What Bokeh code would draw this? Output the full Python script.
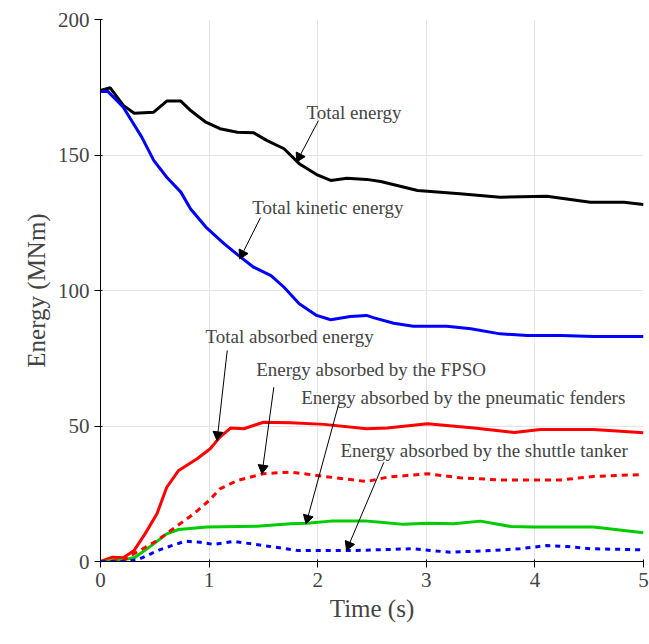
import math
from bokeh.plotting import figure
from bokeh.models import Range1d, Label, FixedTicker
from bokeh.embed import file_html
from bokeh.resources import INLINE

# ---------------- data ----------------
t_total = [0, 0.09, 0.21, 0.31, 0.49, 0.61, 0.74, 0.83, 0.97, 1.10, 1.26, 1.41, 1.53,
           1.69, 1.83, 1.99, 2.12, 2.27, 2.45, 2.58, 2.92, 3.31, 3.68, 4.11, 4.51, 4.82, 5.0]
total_energy = [173.8, 174.8, 168.3, 165.4, 165.8, 169.9, 169.9, 166.4, 162.1, 159.7, 158.4,
                158.2, 155.4, 152.3, 146.8, 142.8, 140.6, 141.4, 141.0, 140.2, 136.9, 135.7,
                134.4, 134.8, 132.6, 132.6, 131.7]

t_kin = [0, 0.07, 0.21, 0.38, 0.49, 0.61, 0.74, 0.83, 0.97, 1.14, 1.29, 1.41, 1.57, 1.69,
         1.83, 1.99, 2.12, 2.30, 2.45, 2.52, 2.70, 2.88, 3.19, 3.41, 3.68, 3.93, 4.24, 4.54, 5.0]
kinetic_energy = [173.4, 173.4, 167.6, 156.6, 148.0, 141.8, 136.3, 130.1, 123.4, 117.2, 112.3,
                  108.6, 105.5, 101.2, 95.1, 90.8, 89.2, 90.4, 90.8, 89.9, 87.9, 86.8, 86.8,
                  85.9, 84.0, 83.4, 83.4, 83.0, 83.0]

t_abs = [0, 0.11, 0.21, 0.31, 0.41, 0.52, 0.61, 0.72, 0.89, 1.01, 1.10, 1.20, 1.32, 1.50,
         1.75, 2.06, 2.45, 2.64, 3.01, 3.44, 3.81, 4.05, 4.54, 5.0]
absorbed_energy = [0, 1.6, 1.4, 4.1, 10.2, 17.6, 27.4, 33.6, 37.9, 41.6, 45.9, 49.3, 49.0,
                   51.4, 51.2, 50.6, 49.0, 49.3, 50.8, 49.3, 47.6, 48.7, 48.7, 47.5]

t_fpso = [0, 0.21, 0.31, 0.52, 0.71, 0.86, 1.00, 1.10, 1.26, 1.50, 1.75, 2.06, 2.45, 2.64,
          3.01, 3.31, 3.68, 4.24, 4.54, 5.0]
fpso_energy = [0, 0.4, 2.9, 7.7, 13.3, 17.6, 22.5, 26.8, 29.9, 32.4, 33.0, 31.4, 29.5, 31.1,
               32.4, 30.9, 30.1, 30.1, 31.4, 32.1]

t_fender = [0, 0.21, 0.32, 0.49, 0.61, 0.72, 0.98, 1.44, 1.75, 1.90, 2.12, 2.45, 2.58, 2.79,
            3.01, 3.25, 3.50, 3.78, 3.99, 4.54, 5.0]
fender_energy = [0, 0.6, 1.6, 6.5, 10.2, 11.8, 12.7, 13.0, 13.9, 14.1, 14.9, 14.9, 14.5, 13.7,
                 14.1, 13.9, 14.9, 12.9, 12.7, 12.7, 10.6]

t_shuttle = [0, 0.21, 0.34, 0.55, 0.78, 0.92, 1.04, 1.23, 1.50, 1.81, 2.36, 2.88, 3.22, 3.62,
             3.86, 4.11, 4.30, 4.51, 5.0]
shuttle_energy = [0, 0, 0.6, 4.4, 7.5, 7.1, 6.3, 7.4, 5.9, 4.1, 4.1, 4.7, 3.4, 4.1, 4.7, 5.9,
                  5.5, 4.7, 4.3]

x_ticks = [0, 1, 2, 3, 4, 5]
y_ticks = [0, 50, 100, 150, 200]

annot_texts = ["Total energy", "Total kinetic energy", "Total absorbed energy",
               "Energy absorbed by the FPSO", "Energy absorbed by the pneumatic fenders",
               "Energy absorbed by the shuttle tanker"]

# ---------------- layout of annotations (data units) ----------------
annot_x = [1.897, 1.397, 0.967, 1.434, 1.848, 2.210]
annot_y = [165.7, 130.6, 83.0, 70.8, 60.5, 41.0]
arrow_x0 = [2.007, 1.473, 1.167, 1.596, 2.194, 2.609]
arrow_y0 = [162.7, 126.9, 77.9, 64.3, 58.2, 36.6]
arrow_x1 = [1.814, 1.289, 1.075, 1.489, 1.897, 2.272]
arrow_y1 = [148.0, 112.2, 45.3, 33.0, 14.5, 4.7]

FONT = "Liberation Serif"
FRAME_W, FRAME_H = 543, 542
X_MAX, Y_MAX = 5, 200
PX_X = FRAME_W / X_MAX
PX_Y = FRAME_H / Y_MAX

p = figure(width=649, height=644, output_backend="svg", toolbar_location=None,
           x_range=Range1d(0, X_MAX), y_range=Range1d(0, Y_MAX),
           min_border_left=100, min_border_right=6, min_border_top=19, min_border_bottom=83)
p.outline_line_color = None

for ax in (p.xaxis[0], p.yaxis[0]):
    ax.major_label_text_font = FONT
    ax.major_label_text_font_size = "21px"
    ax.axis_label_text_font = FONT
    ax.axis_label_text_font_size = "25px"
    ax.axis_label_text_font_style = "normal"

p.xaxis.ticker = FixedTicker(ticks=x_ticks)
p.yaxis.ticker = FixedTicker(ticks=y_ticks)
p.xaxis.axis_label = "Time (s)"
p.yaxis.axis_label = "Energy (MNm)"

p.line(t_total, total_energy, line_color="black", line_width=3)
p.line(t_kin, kinetic_energy, line_color="#0000ff", line_width=3)
p.line(t_abs, absorbed_energy, line_color="#ff0000", line_width=3)
p.line(t_fender, fender_energy, line_color="#00cc00", line_width=3)
p.line(t_fpso, fpso_energy, line_color="#ff0000", line_width=3, line_dash="6 5")
p.line(t_shuttle, shuttle_energy, line_color="#0000ff", line_width=3, line_dash="5 5")

for txt, ax_, ay_ in zip(annot_texts, annot_x, annot_y):
    p.add_layout(Label(x=ax_, y=ay_, text=txt, text_font=FONT, text_font_size="19px",
                       text_baseline="middle", text_align="left"))

p.segment(x0=arrow_x0, y0=arrow_y0, x1=arrow_x1, y1=arrow_y1, line_color="black", line_width=1)
head_x, head_y, head_a = [], [], []
for xs, ys, xe, ye in zip(arrow_x0, arrow_y0, arrow_x1, arrow_y1):
    dx = (xe - xs) * PX_X
    dy = (ye - ys) * PX_Y
    ang = math.atan2(dy, dx)
    head_x.append(xe - 4.0 * math.cos(ang) / PX_X)
    head_y.append(ye - 4.0 * math.sin(ang) / PX_Y)
    head_a.append(ang - math.pi / 2)
p.scatter(head_x, head_y, marker="triangle", size=10, angle=head_a,
          fill_color="black", line_color="black")

open("out.html", "w").write(file_html(p, INLINE))
